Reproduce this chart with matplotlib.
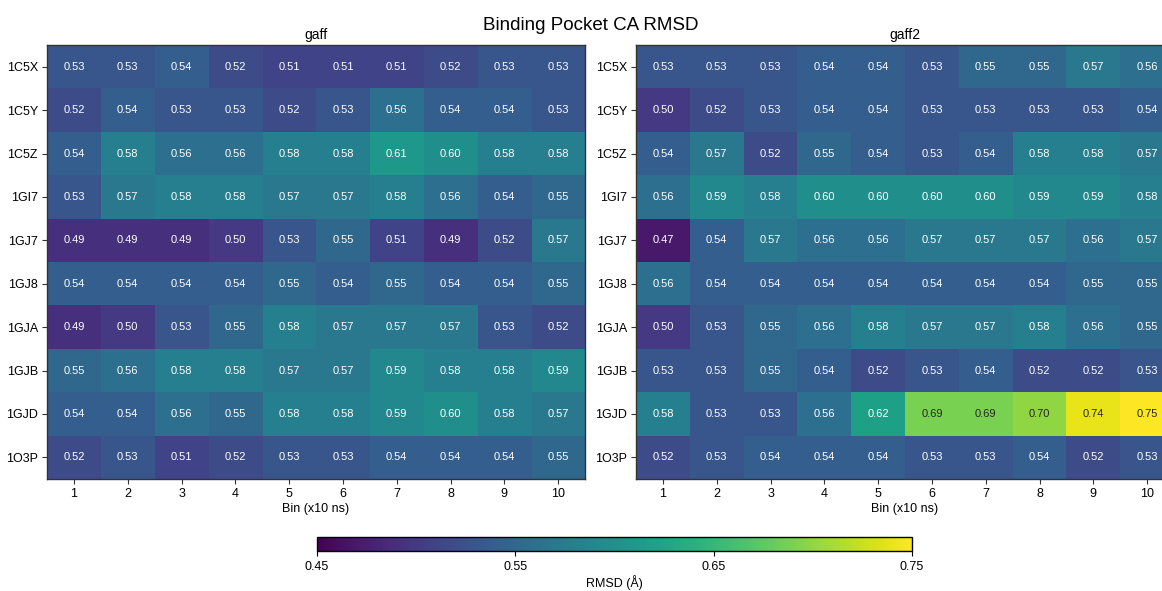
import matplotlib
matplotlib.use("Agg")
import matplotlib.pyplot as plt
import numpy as np

plt.rcParams['font.family'] = ['Liberation Sans', 'DejaVu Sans']

systems = ["1C5X", "1C5Y", "1C5Z", "1GI7", "1GJ7", "1GJ8", "1GJA", "1GJB", "1GJD", "1O3P"]
bins = [1, 2, 3, 4, 5, 6, 7, 8, 9, 10]

gaff = [
    [0.53, 0.53, 0.54, 0.52, 0.51, 0.51, 0.51, 0.52, 0.53, 0.53],
    [0.52, 0.54, 0.53, 0.53, 0.52, 0.53, 0.56, 0.54, 0.54, 0.53],
    [0.54, 0.58, 0.56, 0.56, 0.58, 0.58, 0.61, 0.60, 0.58, 0.58],
    [0.53, 0.57, 0.58, 0.58, 0.57, 0.57, 0.58, 0.56, 0.54, 0.55],
    [0.49, 0.49, 0.49, 0.50, 0.53, 0.55, 0.51, 0.49, 0.52, 0.57],
    [0.54, 0.54, 0.54, 0.54, 0.55, 0.54, 0.55, 0.54, 0.54, 0.55],
    [0.49, 0.50, 0.53, 0.55, 0.58, 0.57, 0.57, 0.57, 0.53, 0.52],
    [0.55, 0.56, 0.58, 0.58, 0.57, 0.57, 0.59, 0.58, 0.58, 0.59],
    [0.54, 0.54, 0.56, 0.55, 0.58, 0.58, 0.59, 0.60, 0.58, 0.57],
    [0.52, 0.53, 0.51, 0.52, 0.53, 0.53, 0.54, 0.54, 0.54, 0.55],
]

gaff2 = [
    [0.53, 0.53, 0.53, 0.54, 0.54, 0.53, 0.55, 0.55, 0.57, 0.56],
    [0.50, 0.52, 0.53, 0.54, 0.54, 0.53, 0.53, 0.53, 0.53, 0.54],
    [0.54, 0.57, 0.52, 0.55, 0.54, 0.53, 0.54, 0.58, 0.58, 0.57],
    [0.56, 0.59, 0.58, 0.60, 0.60, 0.60, 0.60, 0.59, 0.59, 0.58],
    [0.47, 0.54, 0.57, 0.56, 0.56, 0.57, 0.57, 0.57, 0.56, 0.57],
    [0.56, 0.54, 0.54, 0.54, 0.54, 0.54, 0.54, 0.54, 0.55, 0.55],
    [0.50, 0.53, 0.55, 0.56, 0.58, 0.57, 0.57, 0.58, 0.56, 0.55],
    [0.53, 0.53, 0.55, 0.54, 0.52, 0.53, 0.54, 0.52, 0.52, 0.53],
    [0.58, 0.53, 0.53, 0.56, 0.62, 0.69, 0.69, 0.70, 0.74, 0.75],
    [0.52, 0.53, 0.54, 0.54, 0.54, 0.53, 0.53, 0.54, 0.52, 0.53],
]

vmin, vmax = 0.45, 0.75
cmap = plt.get_cmap("viridis")
W, H = 1162, 591

fig = plt.figure(figsize=(W / 100, H / 100), dpi=100)


def px_axes(x0, y0, x1, y1):
    return fig.add_axes([x0 / W, 1 - y1 / H, (x1 - x0) / W, (y1 - y0) / H])


def luminance(rgba):
    c = np.array(rgba[:3])
    c = np.where(c <= 0.03928, c / 12.92, ((c + 0.055) / 1.055) ** 2.4)
    return 0.2126 * c[0] + 0.7152 * c[1] + 0.0722 * c[2]


def heat(ax, data, title):
    arr = np.array(data)
    im = ax.imshow(arr, cmap=cmap, vmin=vmin, vmax=vmax, aspect="auto",
                   interpolation="nearest")
    norm = plt.Normalize(vmin, vmax)
    for i in range(arr.shape[0]):
        for j in range(arr.shape[1]):
            col = cmap(norm(arr[i, j]))
            tc = "#262626" if luminance(col) > 0.408 else "white"
            ax.text(j, i, f"{arr[i, j]:.2f}", ha="center", va="center",
                    color=tc, fontsize=8)
    ax.set_xticks(range(len(bins)))
    ax.set_xticklabels(bins, fontsize=9)
    ax.set_yticks(range(len(systems)))
    ax.set_yticklabels(systems, fontsize=9)
    ax.set_xlabel("Bin (x10 ns)", fontsize=9, labelpad=2)
    ax.set_title(title, fontsize=10, pad=4)
    ax.tick_params(length=3.5, width=0.8, color="#333333", pad=3)
    for s in ax.spines.values():
        s.set_color("#333333")
        s.set_linewidth(1.0)
    return im


ax1 = px_axes(47, 45, 585, 479)
ax2 = px_axes(636, 45, 1174, 479)
im = heat(ax1, gaff, "gaff")
heat(ax2, gaff2, "gaff2")

cax = px_axes(317, 537, 912, 551)
cb = fig.colorbar(im, cax=cax, orientation="horizontal")
cb.set_ticks([0.45, 0.55, 0.65, 0.75])
cb.ax.tick_params(labelsize=9, length=3.5, width=0.8)
cb.set_label("RMSD (Å)", fontsize=9, labelpad=2)
cb.outline.set_linewidth(1.0)

fig.suptitle("Binding Pocket CA RMSD", fontsize=13.5, x=0.508, y=0.972)

fig.savefig("out.png", dpi=100)
